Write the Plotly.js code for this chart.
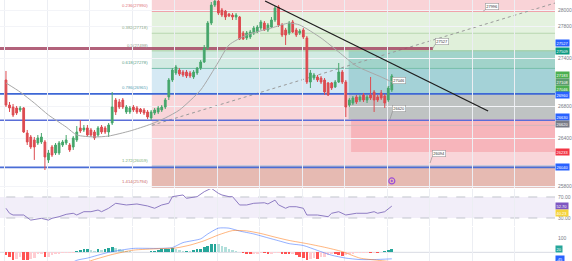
<!DOCTYPE html>
<html>
<head>
<meta charset="utf-8">
<script src="https://cdn.plot.ly/plotly-3.0.1.min.js"></script>
<style>
  html, body { margin: 0; padding: 0; background: #ffffff; }
  #chart { width: 572px; height: 261px; }
</style>
</head>
<body>
<div id="chart"></div>
<script>
// ---- 4H candles (x = bar index) ----
const open = [27133,26820,26795,26783,26758,26783,26470,26420,26383,26345,26358,26358,26133,26295,26220,26220,26320,26345,26320,26295,
  26383,26533,26508,26533,26508,26483,26445,26545,26533,26483,26595,26883,26858,26883,26733,26733,26795,26783,26770,26758,
  26733,26658,26720,26733,26758,26795,26921,27133,27221,27258,27233,27233,27221,27171,27221,27283,27358,27534,27846,28071,
  28120,28009,27996,27959,27946,27921,27921,27721,27659,27671,27721,27734,27784,27846,27759,27796,27884,28046,27821,27759,
  27721,27859,27759,27721,27759,27659,27108,27158,27171,27158,27133,27096,27096,27046,27108,27233,27108,26820,26845,26921,
  26883,26946,26883,26946,26983,26921,26971,26933,26883,27008];
const high = [27246,26858,26833,26808,26808,26795,26508,26445,26420,26445,26470,26383,26258,26320,26345,26370,26383,26445,26345,26433,
  26557,26632,26570,26570,26533,26508,26557,26570,26557,26595,26983,26908,26896,26908,26820,26808,26820,26808,26783,26783,
  26758,26758,26783,26808,26820,26908,27158,27283,27321,27283,27258,27258,27246,27258,27296,27383,27571,27871,28109,28172,
  28159,28034,28009,27971,27971,27971,27934,27746,27746,27759,27809,27821,27884,27871,27846,27921,28059,28071,27846,27784,
  27871,27884,27784,27771,27784,27684,27258,27221,27196,27183,27158,27108,27108,27133,27346,27258,27133,26908,26933,26946,
  26946,26971,26946,27171,27008,26946,27008,26958,27058,27208];
const low = [26795,26733,26670,26695,26733,26470,26320,26270,26133,26320,26333,26007,26095,26170,26195,26195,26295,26320,26233,26258,
  26358,26470,26483,26420,26420,26383,26420,26458,26458,26420,26570,26695,26770,26770,26708,26708,26733,26708,26708,26695,
  26645,26632,26695,26708,26733,26770,26883,27108,27196,27183,27171,27158,27158,27146,27196,27258,27346,27509,27821,28046,
  27946,27921,27884,27921,27884,27884,27634,27634,27634,27646,27696,27721,27759,27746,27734,27784,27859,27796,27671,27571,
  27696,27721,27671,27696,27646,27083,27033,27133,27108,27083,26946,26933,27008,27033,27096,27083,26670,26795,26820,26833,
  26858,26858,26845,26883,26733,26858,26883,26783,26858,26983];
const close = [26820,26783,26695,26720,26783,26483,26358,26295,26295,26408,26420,26170,26220,26195,26320,26345,26358,26383,26258,26408,
  26483,26495,26533,26445,26445,26408,26533,26483,26483,26570,26795,26733,26795,26795,26795,26783,26758,26733,26733,26720,
  26670,26733,26758,26783,26795,26883,27133,27258,27296,27208,27196,27183,27183,27233,27283,27358,27534,27846,28071,28120,
  27971,27946,27921,27934,27921,27946,27646,27646,27721,27734,27784,27796,27859,27759,27821,27884,28034,27821,27696,27696,
  27846,27734,27696,27746,27671,27108,27221,27196,27133,27108,26983,26946,27033,27108,27233,27108,26795,26883,26908,26858,
  26921,26883,26921,26908,26883,26883,26908,26845,27033,27183];

// moving average, read at selected bars
const maIdx = [0,4,8,12,17,20,25,29,35,41,45,49,55,60,63,68,75,80,83,89,94,99,106,109];
const maVal = [27096,26983,26845,26695,26545,26445,26420,26432,26495,26582,26658,26758,27008,27358,27571,27696,27784,27846,27821,27659,27484,27308,27171,27108];

// RSI(14)
const rsiIdx = [0,1,2,5,7,9,10,12,13,15,17,19,20,22,24,26,27,29,31,34,37,40,42,44,46,47,50,51,54,56,58,60,61,63,64,66,68,70,73,74,76,77,79,80,82,84,85,88,91,92,94,96,99,102,104,105,107,109];
const rsiVal = [48.5,39,35.7,35.7,26,27.5,29.4,26,29.4,32.5,37,39,35.7,42,42,45.2,42,48.5,58,54.8,56.7,52.9,48.5,54.8,58,70.6,73.8,67.5,70.6,80,86.6,77,73.8,70.6,70.6,54.8,54.8,58,59,56.7,64,55,48.5,51.5,51.5,48.5,35.7,35.7,32.5,39,42,35.7,39,39,42,39,42,52.7];
const rsiMaLast = 40.23;

// MACD (12, 26, 9)
const macdIdx = [0,3,6,10,14,17,20,23,29,36,43,47,50,55,57,60,63,66,70,74,77,80,84,88,92,96,100,104,109];
const macdVal = [-75,-95,-120,-140,-130,-95,-55,-40,0,27,27,33,67,93,127,167,167,147,127,100,80,60,47,13,-20,-40,-50,-50,-45];
const signalIdx = [0,5,10,15,20,25,30,36,43,48,52,56,60,64,68,72,76,80,85,90,95,100,105,109];
const signalVal = [-68,-90,-110,-115,-90,-50,-15,15,25,30,50,80,120,150,148,130,105,82,60,35,5,-40,-55,-65];
const macdHist = [-20,-35,-53,-45, -30,-50,-53,-45,-40, -15,-10, -35,-30, -20,-15,-10,-8,-5,-3,-2,
  10,15,20,20,15, 12,20,15, 25,30,35,30,25, 15,10,8,5, 5,3,2,4,6, 10,15,20,25, 25,30,20,15,
  10,12,10,15,20,25, 35,45,55,60,55,45, 35,25,15,10,5, -5,-10,-15,-12, -10,-5,-8,-12,-10,-8,-5,
  -10,-15,-15, -12,-20,-30,-40,-50,-45, -40,-45,-35,-30,-20,-15, -15,-20,-25,-20,-15,
  -10,-8,-5,-4,-3,-3,-2,-2, 5,10,15,20];

// drawing tools
const fibHigh = 28430, fibLow = 26566, fibStart = 41.2;
const fibRatios = [0, 0.236, 0.382, 0.5, 0.618, 0.786, 1, 1.272, 1.414];
const hLevels = [27527, 26960, 26630, 26040];
const posStart = 96.8, posEntry = 26645, posTarget = 27509, posStop = 26233;
const trendX = [73.2, 136.2], trendY = [28121, 26745];
const fibTrendX = [41.2, 155.1], fibTrendY = [26566, 28096];
const priceNotes = [
  {x: 120.6, y: 27527, ax: 2, ay: -4},
  {x: 108.3, y: 27046, ax: 3, ay: -3},
  {x: 108.3, y: 26620, ax: 3, ay: -9},
  {x: 119.8, y: 26094, ax: 2, ay: -6},
  {x: 134.8, y: 27996, ax: 2, ay: -1}
];
const eventMark = {x: 109, y: 25870};

// ---- styling ----
const FONT = 'Liberation Sans, Arial, sans-serif';
const GREEN = '#46a66b', RED = '#dd4b50';
const X0 = -1.69, X1 = 155.1, XR = 160;

const fibLevel = r => fibHigh - r * (fibHigh - fibLow);
const bandColors = ['#f9d3d7', '#e4f2df', '#e0f0da', '#d1eae2', '#d5e9f4', '#f9d5d9', '#f9d5d9', '#e6bab2'];
const levelLineColors = ['#c0c0c0', '#f0a3ab', '#b6d6ad', '#a6cfa2', '#76bdaa', '#8fcde0', '#d2b5ba', '#b0c4e0', '#c98a82'];
const levelTextColors = [null, '#e06f78', '#8aa986', '#8e9b8a', '#5a9e88', '#5aa0b4', null, '#7aae76', '#cc6a6a'];
const hColors = ['rgba(165,70,100,0.85)', '#3d67d6', '#5a6ed8', '#4a6dd6'];
const hWidths = [3, 1.6, 1.6, 1.6];

const shapes = [];
// fib zones
for (let k = 0; k < fibRatios.length - 1; k++) {
  shapes.push({type: 'rect', xref: 'x', yref: 'y', x0: fibStart, x1: XR,
    y0: fibLevel(fibRatios[k]), y1: fibLevel(fibRatios[k + 1]),
    fillcolor: bandColors[k], line: {width: 0}, layer: 'below'});
}
// long position: profit and loss zones
shapes.push({type: 'rect', xref: 'x', yref: 'y', x0: posStart, x1: XR, y0: posEntry, y1: posTarget,
  fillcolor: 'rgba(8,140,125,0.24)', line: {width: 0}, layer: 'below'});
shapes.push({type: 'rect', xref: 'x', yref: 'y', x0: posStart + 0.7, x1: XR, y0: posStop, y1: posEntry,
  fillcolor: 'rgba(242,54,69,0.2)', line: {width: 0}, layer: 'below'});
// fib level lines
fibRatios.forEach((r, k) => {
  shapes.push({type: 'line', xref: 'x', yref: 'y', x0: fibStart, x1: XR, y0: fibLevel(r), y1: fibLevel(r),
    line: {color: levelLineColors[k], width: 1}, layer: 'below'});
});
// fib trend (dotted)
shapes.push({type: 'line', xref: 'x', yref: 'y', x0: fibTrendX[0], x1: fibTrendX[1], y0: fibTrendY[0], y1: fibTrendY[1],
  line: {color: '#9a9a9a', width: 1, dash: 'dot'}, layer: 'below'});
// horizontal levels
hLevels.forEach((v, k) => {
  shapes.push({type: 'line', xref: 'x', yref: 'y', x0: -5, x1: k === 0 ? priceNotes[0].x : XR, y0: v, y1: v,
    line: {color: hColors[k], width: hWidths[k]}, layer: 'below'});
});
// descending trend line
shapes.push({type: 'line', xref: 'x', yref: 'y', x0: trendX[0], x1: trendX[1], y0: trendY[0], y1: trendY[1],
  line: {color: '#1e1e1e', width: 1.3}, layer: 'above'});
// RSI band
shapes.push({type: 'rect', xref: 'x', yref: 'y2', x0: -5, x1: XR, y0: 30, y1: 70,
  fillcolor: 'rgba(126,87,194,0.1)', line: {width: 0}, layer: 'below'});
[70, 30].forEach(v => shapes.push({type: 'line', xref: 'x', yref: 'y2', x0: -5, x1: XR, y0: v, y1: v,
  line: {color: '#b4b7c2', width: 0.8, dash: 'dash'}, layer: 'below'}));
// MACD zero line
shapes.push({type: 'line', xref: 'x', yref: 'y3', x0: -5, x1: XR, y0: 0, y1: 0,
  line: {color: '#d8dbe3', width: 1}, layer: 'below'});

const annotations = [];
// fib labels
fibRatios.forEach((r, k) => {
  if (!levelTextColors[k]) return;
  annotations.push({xref: 'x', yref: 'y', x: fibStart - 0.6, y: fibLevel(r), xanchor: 'right', yanchor: 'bottom', yshift: 1,
    text: r + '(' + Math.round(fibLevel(r)) + ')', showarrow: false,
    font: {size: 4.3, color: levelTextColors[k], family: FONT}});
});
// price notes
priceNotes.forEach(n => {
  annotations.push({xref: 'x', yref: 'y', x: n.x, y: n.y, ax: n.ax, ay: n.ay, xanchor: 'left', yanchor: 'bottom',
    text: String(n.y), showarrow: true, arrowhead: 0, arrowwidth: 0.6, arrowcolor: '#8a8a8a',
    bgcolor: '#ffffff', bordercolor: '#9a9a9a', borderwidth: 0.6, borderpad: 0.6,
    font: {size: 4, color: '#333', family: FONT}});
});
// axis tags
function tag(yref, y, text, bg, shift) {
  return {xref: 'paper', x: 1.0, xanchor: 'left', yref: yref, y: y, yanchor: 'middle', yshift: shift || 0,
    text: text, showarrow: false, bgcolor: bg, borderpad: 0.5,
    font: {size: 4, color: '#ffffff', family: FONT}};
}
const lastClose = close[close.length - 1];
const lastMa = maVal[maVal.length - 1];
const lastRsi = rsiVal[rsiVal.length - 1];
const lastMacd = macdVal[macdVal.length - 1];
const lastHist = macdHist[macdHist.length - 1];
annotations.push(tag('y', hLevels[0], String(hLevels[0]), '#2962ff', 6));
annotations.push(tag('y', posTarget, String(posTarget), '#089981', -1));
annotations.push(tag('y', lastClose, String(lastClose), '#4caf50', 1.5));
annotations.push(tag('y', lastMa, String(lastMa), '#5d9c6e', 0));
annotations.push(tag('y', priceNotes[1].y, String(priceNotes[1].y), '#4caf50', -2));
annotations.push(tag('y', hLevels[1], String(hLevels[1]), '#2962ff', -1));
annotations.push(tag('y', hLevels[2], String(hLevels[2]), '#2962ff', 3));
annotations.push(tag('y', priceNotes[2].y, String(priceNotes[2].y), '#787b86', -3));
annotations.push(tag('y', posStop, String(posStop), '#f23645', 0));
annotations.push(tag('y', hLevels[3], String(hLevels[3]), '#2962ff', 0));
annotations.push(tag('y2', lastRsi, lastRsi.toFixed(2), '#7e57c2', 0.5));
annotations.push(tag('y2', rsiMaLast, rsiMaLast.toFixed(2), '#f5d33b', -0.5));
annotations.push(tag('y3', lastHist, String(lastHist), '#26a69a', 0));
annotations.push(tag('y3', lastMacd, String(lastMacd), '#2962ff', 0));

// ---- traces ----
const xs = open.map((_, i) => i);
const histColors = macdHist.map((v, i) => {
  const p = i > 0 ? macdHist[i - 1] : v;
  if (v >= 0) return v >= p ? '#26a69a' : '#b2dfdb';
  return v <= p ? '#ff5252' : '#ffcdd2';
});

const traces = [
  {type: 'scatter', mode: 'lines', x: maIdx, y: maVal, line: {color: '#a8a8a8', width: 1, shape: 'spline', smoothing: 0.6},
    hoverinfo: 'skip', xaxis: 'x', yaxis: 'y'},
  {type: 'candlestick', x: xs, open: open, high: high, low: low, close: close,
    increasing: {line: {color: GREEN, width: 1}, fillcolor: GREEN},
    decreasing: {line: {color: RED, width: 1}, fillcolor: RED},
    whiskerwidth: 0, hoverinfo: 'skip', xaxis: 'x', yaxis: 'y'},
  {type: 'scatter', mode: 'markers', x: [eventMark.x], y: [eventMark.y],
    marker: {symbol: 'circle-open-dot', size: 6, color: '#9c4fd6', line: {width: 1.2}},
    hoverinfo: 'skip', xaxis: 'x', yaxis: 'y'},
  {type: 'scatter', mode: 'lines', x: rsiIdx, y: rsiVal, line: {color: '#8e7cc3', width: 1},
    hoverinfo: 'skip', xaxis: 'x', yaxis: 'y2'},
  {type: 'bar', x: xs, y: macdHist, marker: {color: histColors, line: {width: 0}}, width: 0.75,
    hoverinfo: 'skip', xaxis: 'x', yaxis: 'y3'},
  {type: 'scatter', mode: 'lines', x: macdIdx, y: macdVal, line: {color: 'rgba(41,98,255,0.5)', width: 1, shape: 'spline', smoothing: 0.6},
    hoverinfo: 'skip', xaxis: 'x', yaxis: 'y3'},
  {type: 'scatter', mode: 'lines', x: signalIdx, y: signalVal, line: {color: 'rgba(255,109,0,0.5)', width: 1, shape: 'spline', smoothing: 0.6},
    hoverinfo: 'skip', xaxis: 'x', yaxis: 'y3'}
];

// price scale labels left visible between the tags
const priceTicks = [28000, 27800, 27400, 26800, 26400, 25800];
const tickFont = {size: 5, color: '#7a7d87', family: FONT};

const layout = {
  width: 572, height: 261,
  margin: {l: 0, r: 17, t: 0, b: 0, pad: 0},
  paper_bgcolor: '#ffffff', plot_bgcolor: '#ffffff',
  showlegend: false, dragmode: false, bargap: 0,
  xaxis: {range: [X0, X1], anchor: 'y3', showticklabels: false, ticks: '', showgrid: true,
    gridcolor: '#eceef3', tick0: -0.3, dtick: 12, zeroline: false, showline: false,
    rangeslider: {visible: false}, fixedrange: true},
  yaxis: {domain: [0.2797, 1], range: [25782, 28134], side: 'right', anchor: 'x',
    tickvals: priceTicks, ticktext: priceTicks.map(String), tickfont: tickFont, ticks: '',
    ticklabelstandoff: 2, showgrid: true, gridcolor: '#f3f4f8', zeroline: false, showline: false, fixedrange: true},
  yaxis2: {domain: [0.1341, 0.2759], range: [14.8, 85.2], side: 'right', anchor: 'x',
    tickvals: [70, 30], ticktext: ['70.00', '30.00'], tickfont: tickFont, ticks: '', ticklabelstandoff: 2,
    showgrid: false, zeroline: false, showline: false, fixedrange: true},
  yaxis3: {domain: [0, 0.1303], range: [-60, 175], side: 'right', anchor: 'x',
    tickvals: [100], ticktext: ['100'], tickfont: tickFont, ticks: '', ticklabelstandoff: 2,
    showgrid: false, zeroline: false, showline: false, fixedrange: true},
  shapes: shapes,
  annotations: annotations
};

Plotly.newPlot('chart', traces, layout, {staticPlot: true, displayModeBar: false});
</script>
</body>
</html>
